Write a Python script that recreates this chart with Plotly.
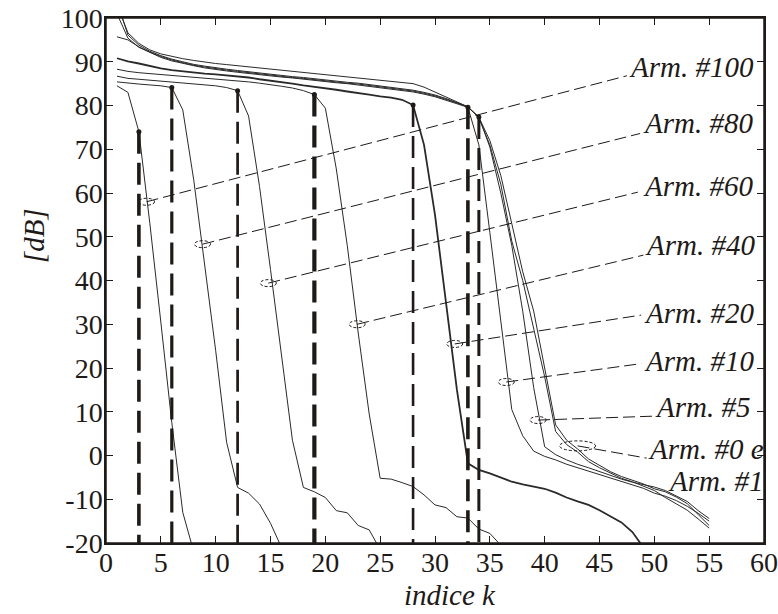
import plotly.graph_objects as go

# ---------------- data ----------------
# curves: dB vs index k (k = 1, 2, 3, ...)
db_arm100 = [84.5, 83.0, 74.0, 53.0, 30.5, 7.5, -13.0, -22.0]
db_arm80 = [85.4, 85.1, 84.9, 84.7, 84.5, 84.1, 79.0, 63.0, 44.0, 24.0, 3.0,
            -7.3, -8.6, -11.1, -15.5, -21.0]
db_arm60 = [86.7, 86.2, 86.0, 85.8, 85.6, 85.4, 85.2, 85.0, 84.8, 84.5, 84.1,
            83.4, 77.6, 61.5, 42.5, 22.5, 3.5, -7.3, -8.3, -9.6, -12.6, -13.1,
            -16.0, -17.0, -21.5]
db_arm40 = [88.3, 87.8, 87.5, 87.3, 87.1, 86.9, 86.7, 86.5, 86.3, 86.1, 85.9,
            85.7, 85.4, 85.1, 84.8, 84.4, 84.0, 83.4, 82.5, 79.4, 65.5, 48.0,
            28.0, 9.5, -5.2, -5.4, -6.2, -7.1, -9.0, -11.3, -11.9, -14.0, -14.3,
            -16.8, -17.8, -20.5]
db_arm20 = [90.8, 90.1, 89.6, 89.0, 88.5, 88.1, 87.8, 87.5, 87.3, 87.1, 86.9,
            86.7, 86.4, 86.0, 85.7, 85.3, 85.0, 84.6, 84.3, 83.9, 83.6, 83.2,
            82.9, 82.5, 82.1, 81.8, 81.3, 80.1, 71.0, 55.0, 35.0, 15.0, -1.8,
            -3.3, -4.1, -5.0, -6.0, -6.6, -7.1, -7.6, -8.5, -9.6, -10.5, -11.3,
            -12.5, -13.9, -15.3, -17.5, -21.0]
db_arm10 = [95.7, 95.0, 93.4, 92.2, 91.2, 90.4, 89.8, 89.2, 88.8, 88.4, 88.1,
            87.8, 87.5, 87.2, 86.9, 86.7, 86.4, 86.2, 85.9, 85.6, 85.4, 85.1,
            84.9, 84.6, 84.3, 84.0, 83.7, 83.3, 82.8, 82.2, 81.4, 80.6, 79.6,
            71.0, 51.0, 31.0, 10.5, 4.5, 1.0, -0.2, -1.0, -2.0, -2.8, -3.5,
            -4.4, -5.2, -6.0, -6.7, -7.5, -8.6, -9.3, -10.3, -11.6, -13.2, -15.0]
db_arm5 = [104.0, 96.1, 93.8, 92.4, 91.4, 90.6, 90.0, 89.4, 89.0, 88.6, 88.3,
           88.0, 87.7, 87.4, 87.1, 86.9, 86.6, 86.4, 86.1, 85.8, 85.6, 85.3,
           85.1, 84.8, 84.5, 84.2, 83.9, 83.5, 83.0, 82.4, 81.6, 80.7, 79.7,
           77.4, 70.5, 60.0, 48.0, 33.0, 15.5, 2.0, 0.2, -1.0, -2.0, -2.8,
           -3.7, -4.6, -5.4, -6.1, -6.7, -7.2, -8.0, -9.2, -10.5, -12.6, -14.4]
db_arm1 = [101.0, 95.4, 93.3, 92.1, 91.0, 90.2, 89.6, 89.1, 88.6, 88.2, 87.9,
           87.6, 87.3, 87.0, 86.8, 86.5, 86.3, 86.0, 85.8, 85.5, 85.2, 85.0,
           84.7, 84.4, 84.1, 83.8, 83.5, 83.1, 82.6, 82.0, 81.2, 80.4, 79.6,
           77.3, 72.0, 64.0, 53.0, 42.0, 33.0, 20.0, 7.0, 3.5, 1.5, -0.8,
           -2.3, -3.7, -4.8, -5.6, -6.5, -7.6, -8.3, -9.5, -11.0, -13.5, -16.0]
db_arm0 = [103.0, 96.6, 94.2, 92.7, 91.8, 91.2, 90.7, 90.3, 89.9, 89.6, 89.35,
           89.1, 88.8, 88.5, 88.3, 88.0, 87.8, 87.5, 87.3, 87.0, 86.8, 86.6,
           86.3, 86.0, 85.8, 85.5, 85.3, 85.0, 84.2, 83.1, 82.0, 80.9, 79.7,
           77.2, 71.0, 62.0, 49.0, 40.0, 29.0, 18.0, 5.5, 2.5, 0.8, -1.4,
           -2.8, -4.0, -5.2, -6.0, -7.0, -8.0, -9.6, -11.0, -12.5, -14.5, -16.6]

curve_names = ["Arm. #100", "Arm. #80", "Arm. #60", "Arm. #40", "Arm. #20",
               "Arm. #10", "Arm. #5", "Arm. #1", "Arm. #0"]
curve_values = [db_arm100, db_arm80, db_arm60, db_arm40, db_arm20,
                db_arm10, db_arm5, db_arm1, db_arm0]
curve_widths = [1.0, 1.0, 1.0, 1.0, 1.8, 1.0, 1.0, 1.0, 1.0]

# knee index k for the curves that have one (vertical dashed markers)
knee_curve = ["Arm. #100", "Arm. #80", "Arm. #60", "Arm. #40", "Arm. #20",
              "Arm. #10", "Arm. #5"]
knee_k = [3, 6, 12, 19, 28, 33, 34]
knee_widths = [3.6, 3.2, 2.7, 4.2, 2.6, 3.6, 3.0]

# callout labels: anchor point on curve, end of leader, text position
label_text = ["Arm. #100", "Arm. #80", "Arm. #60", "Arm. #40", "Arm. #20",
              "Arm. #10", "Arm. #5", "Arm. #0 e", "Arm. #1"]
anchor_k = [3.7, 8.8, 14.8, 22.9, 31.8, 36.5, 39.4, 43.0, None]
anchor_db = [58.0, 48.3, 39.4, 30.0, 25.5, 16.8, 8.1, 2.2, None]
leader_end_k = [47.5, 48.7, 48.5, 49.0, 48.8, 48.8, 50.0, 49.3, None]
leader_end_db = [86.8, 73.6, 60.2, 45.8, 32.1, 21.0, 9.0, -0.6, None]
text_k = [47.5, 48.8, 48.8, 49.0, 48.9, 48.9, 49.9, 49.2, 51.1]
text_db = [88.7, 75.9, 61.6, 48.1, 32.5, 21.6, 11.0, 1.5, -5.8]
ellipse_half_w = [8, 8, 8, 8, 8, 8, 8, 18, None]
ellipse_half_h = [3.5, 3.5, 3.5, 3.5, 3.5, 3.5, 3.5, 5, None]

x_ticks = [0, 5, 10, 15, 20, 25, 30, 35, 40, 45, 50, 55, 60]
y_ticks = [-20, -10, 0, 10, 20, 30, 40, 50, 60, 70, 80, 90, 100]
y_ticktext = ["-20", "-10", "0", "10", "20", "30", "40", "50", "60", "70",
              "80", "90", "100"]
x_range = [0, 60]
y_range = [-20, 100]

# ---------------- figure ----------------
SERIF = "Liberation Serif"
INK = "#1e1a18"
TICKLEN = 7

fig = go.Figure()

for name, vals, w in zip(curve_names, curve_values, curve_widths):
    fig.add_trace(go.Scatter(
        x=list(range(1, len(vals) + 1)), y=vals, mode="lines", name=name,
        line=dict(color="#2a2a2a", width=w), showlegend=False,
        hoverinfo="skip"))

# vertical dashed knee markers
for cname, k, w in zip(knee_curve, knee_k, knee_widths):
    vals = curve_values[curve_names.index(cname)]
    v = vals[k - 1]
    fig.add_trace(go.Scatter(
        x=[k, k], y=[v, y_range[0]], mode="lines",
        line=dict(color=INK, width=w, dash="22px,9px"),
        showlegend=False, hoverinfo="skip"))
    fig.add_trace(go.Scatter(
        x=[k], y=[v], mode="markers",
        marker=dict(color=INK, size=5), showlegend=False, hoverinfo="skip"))

# leaders, ellipses and labels
shapes = []
annotations = []
for i, txt in enumerate(label_text):
    if anchor_k[i] is not None:
        fig.add_trace(go.Scatter(
            x=[anchor_k[i], leader_end_k[i]], y=[anchor_db[i], leader_end_db[i]],
            mode="lines", line=dict(color=INK, width=1, dash="12px,5px"),
            showlegend=False, hoverinfo="skip"))
        shapes.append(dict(
            type="circle", xref="x", yref="y",
            xsizemode="pixel", ysizemode="pixel",
            xanchor=anchor_k[i], yanchor=anchor_db[i],
            x0=-ellipse_half_w[i], x1=ellipse_half_w[i],
            y0=-ellipse_half_h[i], y1=ellipse_half_h[i],
            line=dict(color=INK, width=1, dash="3px,2px")))
    annotations.append(dict(
        x=text_k[i], y=text_db[i], xref="x", yref="y", text=txt,
        showarrow=False, xanchor="left", yanchor="middle",
        font=dict(family=SERIF, size=29, color=INK, style="italic")))

# frame box around the plot area
shapes.append(dict(type="rect", xref="paper", yref="paper", x0=0, x1=1,
                   y0=0, y1=1, line=dict(color=INK, width=1.5),
                   fillcolor="rgba(0,0,0,0)", layer="above"))

annotations.append(dict(
    x=0.523, y=-0.133, xref="paper", yref="paper", text="indice k",
    showarrow=False, xanchor="center", yanchor="bottom",
    font=dict(family=SERIF, size=29, color=INK, style="italic")))
annotations.append(dict(
    x=-0.109, y=0.585, xref="paper", yref="paper", text="[dB]",
    showarrow=False, xanchor="center", yanchor="middle", textangle=-90,
    font=dict(family=SERIF, size=29, color=INK, style="italic")))

axis_common = dict(
    showline=True, linecolor=INK, linewidth=1.5, mirror="ticks",
    ticks="inside", ticklen=TICKLEN, tickwidth=1.2, tickcolor=INK,
    showgrid=False, zeroline=False, automargin=False,
    tickfont=dict(family=SERIF, size=28, color=INK))

fig.update_xaxes(range=x_range, tickvals=x_ticks, ticklabelstandoff=-6,
                 **axis_common)
fig.update_yaxes(range=y_range, tickvals=y_ticks, ticktext=y_ticktext,
                 ticklabelstandoff=-4, **axis_common)

fig.update_layout(
    width=778, height=614,
    margin=dict(l=106, r=14, t=18, b=71),
    paper_bgcolor="white", plot_bgcolor="white",
    shapes=shapes, annotations=annotations, showlegend=False)

# remove the page's default body margin, then redraw the figure once
fig.write_html(
    "out.html",
    config={"displayModeBar": False},
    post_script=(
        "document.body.style.margin='0';"
        "document.body.style.overflow='hidden';"
        "var gd=document.getElementById('{plot_id}');"
        "Plotly.newPlot(gd, gd.data, gd.layout, {displayModeBar:false});"))
